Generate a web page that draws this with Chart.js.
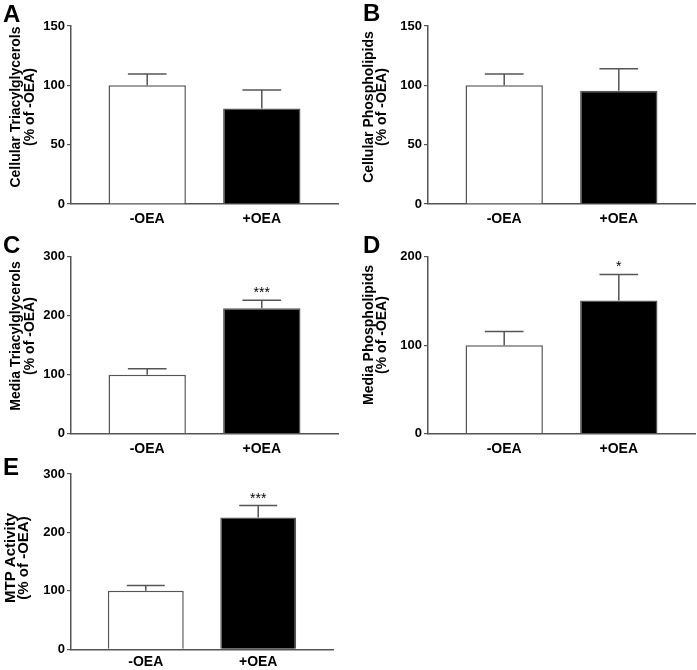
<!DOCTYPE html>
<html><head><meta charset="utf-8">
<script src="https://cdn.jsdelivr.net/npm/chart.js@4.4.1/dist/chart.umd.min.js"></script>
<style>
html,body{margin:0;padding:0;background:#fff;}
#wrap{position:relative;width:697px;height:670px;overflow:hidden;background:#fff;}
#wrap canvas{position:absolute;}
</style></head><body><div id="wrap"></div>
<script>
// ---------- data ----------
const categories = ['-OEA', '+OEA'];
const panelLetters = ['A', 'B', 'C', 'D', 'E'];
const yTitles = [
  ['Cellular Triacylglycerols', '(% of -OEA)'],
  ['Cellular Phospholipids', '(% of -OEA)'],
  ['Media Triacylglycerols', '(% of -OEA)'],
  ['Media Phospholipids', '(% of -OEA)'],
  ['MTP Activity', '(% of -OEA)']
];
const cellularTG = [100, 80.5];
const cellularTGErr = [9.5, 15.5];
const cellularPL = [100, 95.5];
const cellularPLErr = [9.5, 18.5];
const mediaTG = [100, 212.5];
const mediaTGErr = [10, 13.5];
const mediaPL = [100, 150.5];
const mediaPLErr = [15.5, 29.5];
const mtpActivity = [100, 225.5];
const mtpActivityErr = [9, 20.5];
const sigA = ['', ''];
const sigB = ['', ''];
const sigC = ['', '***'];
const sigD = ['', '*'];
const sigE = ['', '***'];
const yTicksAB = [0, 50, 100, 150];
const yTicksCE = [0, 100, 200, 300];
const yTicksD = [0, 100, 200];

// ---------- layout / style ----------
const FONT = 'Arial, "Liberation Sans", Helvetica, sans-serif';
const GRAY = '#555555';
const barFills = ['#ffffff', '#000000'];

const panels = [
  { values: cellularTG, errors: cellularTGErr, sig: sigA, ticks: yTicksAB, title: yTitles[0], letter: panelLetters[0],
    box: {left: 0, top: 0, w: 348, h: 228}, area: {l: 71, t: 26, r: 338, b: 204},
    titleX: [20, 34], titleCY: 107, titleSize: 14, letterPos: [3, 22], xPad: 7 },
  { values: cellularPL, errors: cellularPLErr, sig: sigB, ticks: yTicksAB, title: yTitles[1], letter: panelLetters[1],
    box: {left: 348, top: 0, w: 349, h: 228}, area: {l: 80, t: 26, r: 347, b: 204},
    titleX: [25, 37.5], titleCY: 107, titleSize: 14, letterPos: [15, 21], xPad: 7 },
  { values: mediaTG, errors: mediaTGErr, sig: sigC, ticks: yTicksCE, title: yTitles[2], letter: panelLetters[2],
    box: {left: 0, top: 228, w: 348, h: 232}, area: {l: 71, t: 28.7, r: 338, b: 205.7},
    titleX: [20, 34], titleCY: 108, titleSize: 14, letterPos: [3, 25], xPad: 7 },
  { values: mediaPL, errors: mediaPLErr, sig: sigD, ticks: yTicksD, title: yTitles[3], letter: panelLetters[3],
    box: {left: 348, top: 228, w: 349, h: 232}, area: {l: 80, t: 28.7, r: 347, b: 205.7},
    titleX: [25, 37.5], titleCY: 107, titleSize: 14, letterPos: [15, 25], xPad: 7 },
  { values: mtpActivity, errors: mtpActivityErr, sig: sigE, ticks: yTicksCE, title: yTitles[4], letter: panelLetters[4],
    box: {left: 0, top: 455, w: 348, h: 215}, area: {l: 71, t: 19, r: 333, b: 194.3},
    titleX: [14.5, 28], titleCY: 103, titleSize: 15, letterPos: [3, 20], xPad: 4 }
];

const decoPlugin = {
  id: 'deco',
  afterDatasetsDraw(chart, args, opts) {
    const ctx = chart.ctx;
    const meta = chart.getDatasetMeta(0);
    const ys = chart.scales.y;
    const ds = chart.data.datasets[0];
    ctx.save();
    meta.data.forEach((bar, i) => {
      const v = ds.data[i].y;
      const top = ys.getPixelForValue(v + opts.errors[i]);
      const half = bar.width / 4;
      ctx.strokeStyle = GRAY;
      ctx.lineWidth = 1.5;
      ctx.beginPath();
      ctx.moveTo(bar.x, bar.y);
      ctx.lineTo(bar.x, top);
      ctx.moveTo(bar.x - half, top);
      ctx.lineTo(bar.x + half, top);
      ctx.stroke();
      if (opts.sig[i]) {
        ctx.fillStyle = '#000';
        ctx.font = '14px ' + FONT;
        ctx.textAlign = 'center';
        ctx.textBaseline = 'alphabetic';
        ctx.fillText(opts.sig[i], bar.x, top - 3);
      }
    });
    ctx.restore();
  },
  afterDraw(chart, args, opts) {
    const ctx = chart.ctx;
    ctx.save();
    ctx.fillStyle = '#000';
    ctx.font = 'bold ' + opts.titleSize + 'px ' + FONT;
    ctx.textAlign = 'center';
    ctx.textBaseline = 'alphabetic';
    opts.title.forEach((line, k) => {
      ctx.save();
      ctx.translate(opts.titleX[k], opts.titleCY);
      ctx.rotate(-Math.PI / 2);
      ctx.fillText(line, 0, 0);
      ctx.restore();
    });
    ctx.font = 'bold 24px ' + FONT;
    ctx.textAlign = 'left';
    ctx.fillText(opts.letter, opts.letterPos[0], opts.letterPos[1]);
    ctx.restore();
  }
};

const wrap = document.getElementById('wrap');
panels.forEach(p => {
  const cv = document.createElement('canvas');
  cv.width = p.box.w; cv.height = p.box.h;
  cv.style.left = p.box.left + 'px'; cv.style.top = p.box.top + 'px';
  cv.style.width = p.box.w + 'px'; cv.style.height = p.box.h + 'px';
  wrap.appendChild(cv);
  const tks = p.ticks;
  new Chart(cv, {
    type: 'bar',
    data: {
      datasets: [{
        data: categories.map((c, i) => ({x: i + 1, y: p.values[i]})),
        backgroundColor: barFills,
        borderColor: GRAY,
        borderWidth: 1.5,
        categoryPercentage: 1,
        barPercentage: 0.675
      }]
    },
    options: {
      responsive: false,
      animation: false,
      devicePixelRatio: 1,
      layout: { padding: { left: 0, top: p.area.t, right: p.box.w - p.area.r, bottom: 0 } },
      plugins: {
        legend: { display: false },
        tooltip: { enabled: false },
        deco: { errors: p.errors, sig: p.sig, title: p.title, titleX: p.titleX, titleCY: p.titleCY,
                titleSize: p.titleSize, letter: p.letter, letterPos: p.letterPos }
      },
      scales: {
        x: {
          type: 'linear',
          min: 1 - 0.665, max: 2 + 0.665,
          offset: false,
          grid: { display: false, offset: false, drawTicks: false },
          border: { display: true, color: GRAY, width: 1.5 },
          afterBuildTicks: s => { s.ticks = categories.map((c, i) => ({value: i + 1})); },
          afterFit: s => { s.height = p.box.h - p.area.b; },
          ticks: {
            padding: p.xPad,
            color: '#000',
            font: { family: FONT, size: 14, weight: 'bold' },
            callback: v => categories[v - 1],
            maxRotation: 0, autoSkip: false
          }
        },
        y: {
          min: tks[0], max: tks[tks.length - 1],
          afterBuildTicks: s => { s.ticks = tks.map(v => ({value: v})); },
          afterFit: s => { s.width = p.area.l; },
          grid: { drawOnChartArea: false, drawTicks: true, tickLength: 4, color: GRAY, lineWidth: 1.2 },
          border: { display: true, color: GRAY, width: 1.5 },
          ticks: { padding: 2, color: '#000', font: { family: FONT, size: 13, weight: 'bold' } }
        }
      }
    },
    plugins: [decoPlugin]
  });
});
</script></body></html>
